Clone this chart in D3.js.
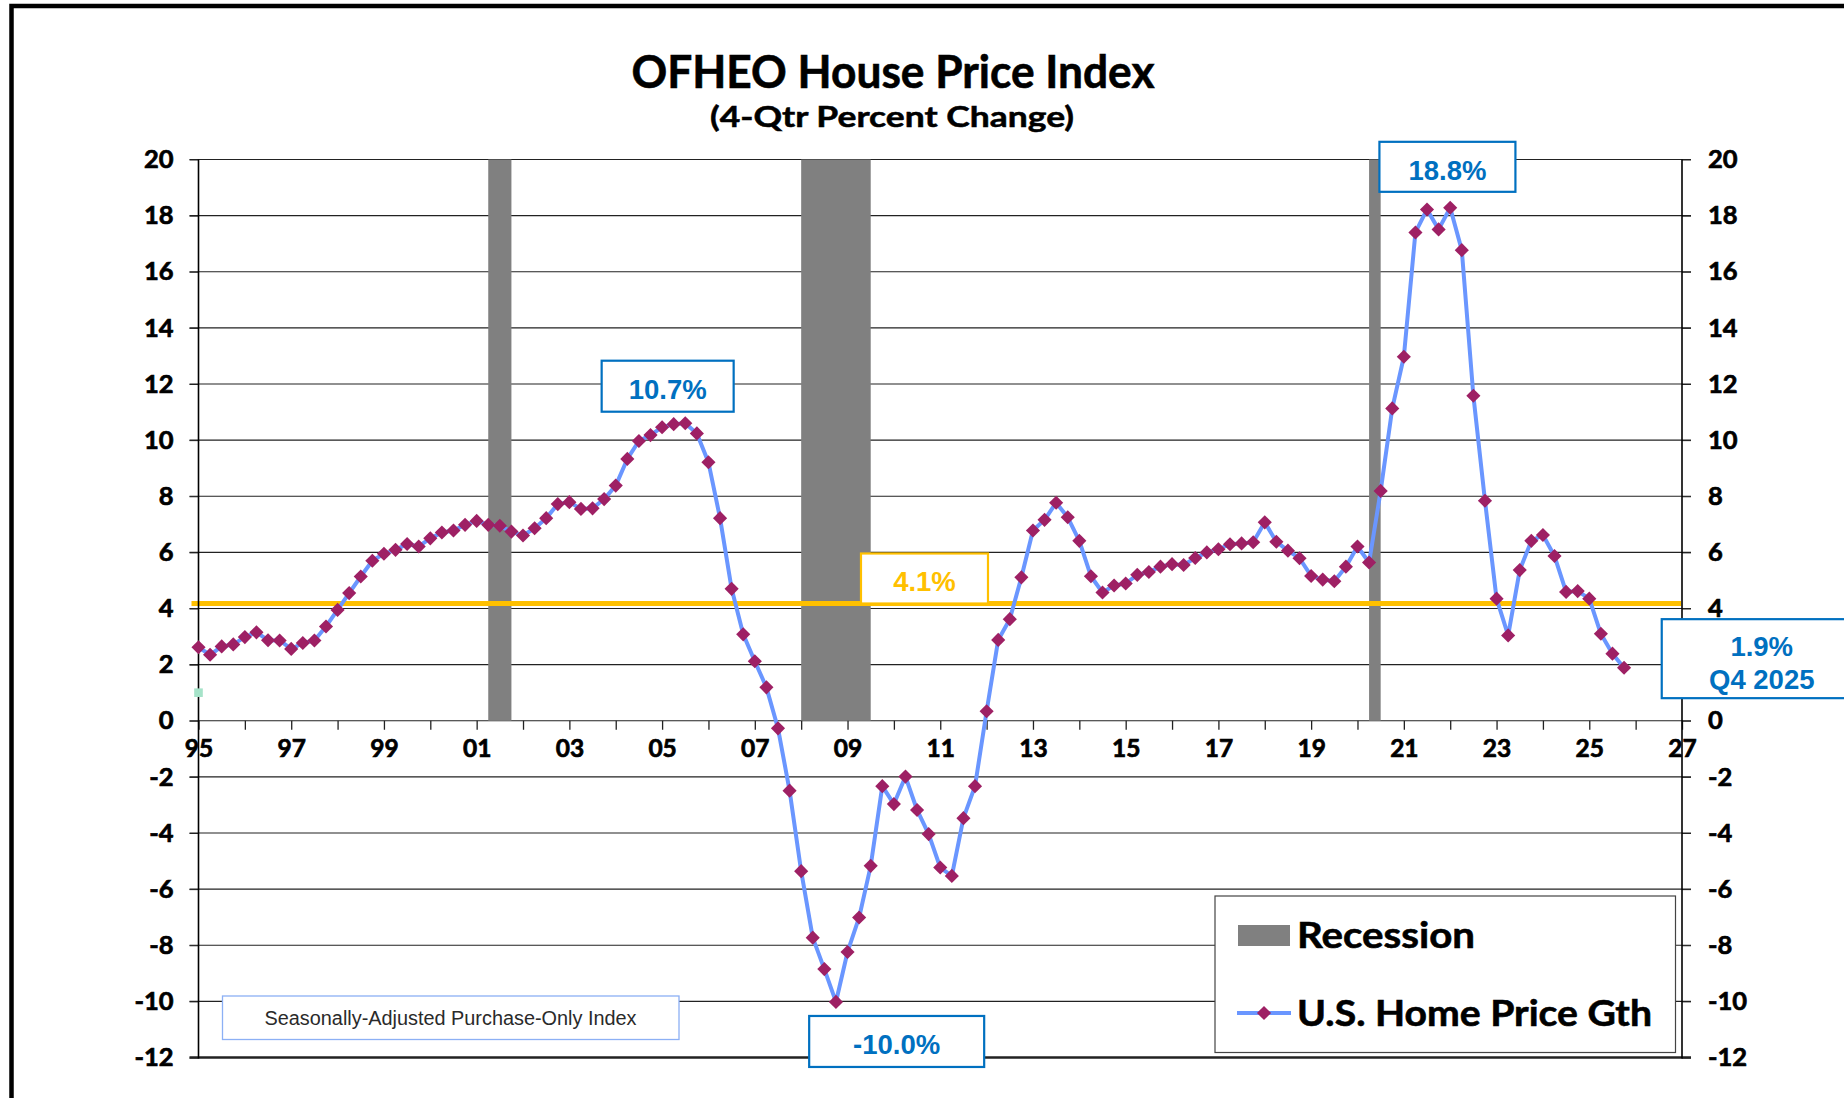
<!DOCTYPE html>
<html>
<head>
<meta charset="utf-8">
<script src="https://cdn.jsdelivr.net/npm/d3@7"></script>
<style>
  html, body { margin: 0; padding: 0; background: #fff; overflow: hidden; }
</style>
</head>
<body>
<div class="hpi-chart"></div>
<script>
const width = 1844;
const height = 1098;
const gothic = '"Century Gothic", Lato, "DejaVu Sans", sans-serif';
const arial = '"Liberation Sans", Arial, sans-serif';

// U.S. home price growth, 4-qtr % change, quarterly from 1995Q1 to 2025Q4
const firstYear = 1995;
const hpiGrowth = [
    2.62, 2.35, 2.65, 2.72,   // 1995
    2.98, 3.15, 2.87, 2.86,   // 1996
    2.56, 2.77, 2.86, 3.36,   // 1997
    3.95, 4.55, 5.14, 5.70,   // 1998
    5.95, 6.09, 6.30, 6.21,   // 1999
    6.50, 6.71, 6.78, 6.98,   // 2000
    7.12, 6.98, 6.95, 6.74,   // 2001
    6.60, 6.86, 7.22, 7.72,   // 2002
    7.79, 7.55, 7.57, 7.90,   // 2003
    8.38, 9.33, 9.97, 10.18,  // 2004
    10.46, 10.57, 10.60, 10.24, // 2005
    9.21, 7.22, 4.70, 3.08,   // 2006
    2.12, 1.19, -0.27, -2.49, // 2007
    -5.36, -7.73, -8.85, -10.02, // 2008
    -8.24, -7.01, -5.17, -2.33, // 2009
    -2.97, -1.99, -3.18, -4.04, // 2010
    -5.23, -5.53, -3.47, -2.33, // 2011
    0.34, 2.88, 3.62, 5.11,   // 2012
    6.78, 7.16, 7.77, 7.25,   // 2013
    6.41, 5.15, 4.57, 4.82,   // 2014
    4.89, 5.20, 5.30, 5.49,   // 2015
    5.58, 5.55, 5.80, 6.00,   // 2016
    6.11, 6.29, 6.32, 6.36,   // 2017
    7.07, 6.38, 6.06, 5.79,   // 2018
    5.16, 5.03, 4.97, 5.49,   // 2019
    6.21, 5.64, 8.19, 11.13,  // 2020
    12.97, 17.40, 18.22, 17.51, // 2021
    18.28, 16.77, 11.58, 7.84, // 2022
    4.35, 3.04, 5.37, 6.41,   // 2023
    6.62, 5.87, 4.59, 4.62,   // 2024
    4.35, 3.10, 2.39, 1.89    // 2025
];

const recessionStart = [2001.25, 2008.0, 2020.25];
const recessionEnd = [2001.75, 2009.5, 2020.5];
const averageLine = 4.18;          // yellow reference line, as drawn
const strayPoint = { t: 1995, v: 1.0 };

const yTicks = [-12, -10, -8, -6, -4, -2, 0, 2, 4, 6, 8, 10, 12, 14, 16, 18, 20];
const rightHidden = [2];           // covered by the Q4 2025 callout
const xTickYears = [1995, 1996, 1997, 1998, 1999, 2000, 2001, 2002, 2003, 2004, 2005,
    2006, 2007, 2008, 2009, 2010, 2011, 2012, 2013, 2014, 2015, 2016, 2017, 2018,
    2019, 2020, 2021, 2022, 2023, 2024, 2025, 2026, 2027];
const xLabelYears = [1995, 1997, 1999, 2001, 2003, 2005, 2007, 2009, 2011, 2013,
    2015, 2017, 2019, 2021, 2023, 2025, 2027];

const calloutText = ["10.7%", "18.8%", "4.1%", "-10.0%", ["1.9%", "Q4 2025"]];

function hpiChart() {
    const svg = d3.select(".hpi-chart")
        .append("svg")
        .attr("width", width)
        .attr("height", height);

    const x = d3.scaleLinear().domain([1995, 2027]).range([198.5, 1682]);
    const y = d3.scaleLinear().domain([-12, 20]).range([1057.5, 159.5]);
    const [left, right] = x.range();

    const series = hpiGrowth.map((v, i) => ({ t: firstYear + i / 4, v: v }));

    // outer frame (only top and left edges are visible)
    svg.append("path")
        .attr("d", `M11.5,${height + 10}V6H${width + 10}`)
        .attr("fill", "none")
        .attr("stroke", "#000")
        .attr("stroke-width", 4.5);

    // titles
    svg.append("text")
        .text("OFHEO House Price Index")
        .attr("x", 893).attr("y", 88)
        .attr("text-anchor", "middle")
        .attr("font-family", gothic).attr("font-weight", "bold")
        .attr("font-size", 45)
        .attr("stroke", "#000").attr("stroke-width", 0.6)
        .attr("textLength", 523).attr("lengthAdjust", "spacingAndGlyphs");
    svg.append("text")
        .text("(4-Qtr Percent Change)")
        .attr("x", 892).attr("y", 127)
        .attr("text-anchor", "middle")
        .attr("font-family", gothic).attr("font-weight", "bold")
        .attr("font-size", 28.5)
        .attr("stroke", "#000").attr("stroke-width", 0.5)
        .attr("textLength", 364).attr("lengthAdjust", "spacingAndGlyphs");

    // horizontal gridlines (run through the tick marks on both sides)
    svg.append("g")
        .selectAll("line")
        .data(yTicks)
        .join("line")
        .attr("x1", left - 9).attr("x2", right + 9)
        .attr("y1", (d) => y(d)).attr("y2", (d) => y(d))
        .attr("stroke", "#222")
        .attr("stroke-width", (d) => (d === -12 ? 2.5 : 1.1));

    // recession bars
    svg.append("g")
        .selectAll("rect")
        .data(recessionStart)
        .join("rect")
        .attr("x", (d) => x(d))
        .attr("width", (d, i) => x(recessionEnd[i]) - x(d))
        .attr("y", y(20))
        .attr("height", y(0) - y(20))
        .attr("fill", "#808080");

    // average growth line
    svg.append("line")
        .attr("x1", left - 7).attr("x2", right - 1)
        .attr("y1", y(averageLine)).attr("y2", y(averageLine))
        .attr("stroke", "#FFC000")
        .attr("stroke-width", 5);

    // axes
    const axisFont = (g, size) => g
        .attr("font-family", gothic)
        .attr("font-weight", "bold")
        .attr("font-size", size);
    const heavy = (sel) => sel
        .attr("fill", "#000")
        .attr("stroke", "#000")
        .attr("stroke-width", 0.7);

    svg.append("g")
        .attr("transform", `translate(${left},0)`)
        .call(d3.axisLeft(y).tickValues(yTicks).tickSize(9).tickSizeOuter(0)
            .tickPadding(16).tickFormat((d) => String(d)))
        .call((g) => g.select(".domain").remove())
        .call((g) => g.selectAll(".tick line").attr("stroke", "#222"))
        .call((g) => heavy(axisFont(g, 25.5).selectAll("text")));

    svg.append("g")
        .attr("transform", `translate(${right},0)`)
        .call(d3.axisRight(y).tickValues(yTicks).tickSize(9).tickSizeOuter(0)
            .tickPadding(17)
            .tickFormat((d) => (rightHidden.includes(d) ? "" : String(d))))
        .call((g) => g.select(".domain").remove())
        .call((g) => g.selectAll(".tick line").attr("stroke", "#222"))
        .call((g) => heavy(axisFont(g, 25.5).selectAll("text")));

    svg.append("g")
        .attr("transform", `translate(0,${y(0)})`)
        .call(d3.axisBottom(x).tickValues(xTickYears).tickSize(9).tickSizeOuter(0)
            .tickPadding(10)
            .tickFormat((d) => (xLabelYears.includes(d) ? String(d % 100).padStart(2, "0") : "")))
        .call((g) => g.select(".domain").remove())
        .call((g) => g.selectAll(".tick line").attr("stroke", "#222").attr("stroke-width", 1.3))
        .call((g) => heavy(axisFont(g, 24.5).selectAll("text")));

    // vertical axis lines drawn over the year labels
    svg.append("g")
        .selectAll("line")
        .data([left, right])
        .join("line")
        .attr("x1", (d) => d).attr("x2", (d) => d)
        .attr("y1", y(20)).attr("y2", y(-12) + 1)
        .attr("stroke", "#000")
        .attr("stroke-width", 1.6);

    // callout boxes
    const callouts = [
        { t: 2005.12, v: 12.83, w: 132, h: 51, color: "#0070C0" },
        { t: 2021.94, v: 20.63, w: 136, h: 50, color: "#0070C0" },
        { t: 2010.66, v: 5.96, w: 127, h: 50, color: "#FFC000" },
        { t: 2010.06, v: -10.52, w: 175, h: 51, color: "#0070C0" },
        { t: 2028.72, v: 3.62, w: 200, h: 79, color: "#0070C0" },
    ].map((c, i) => ({ ...c, text: calloutText[i] }));

    const cg = svg.append("g")
        .selectAll("g")
        .data(callouts)
        .join("g")
        .attr("transform", (d) => `translate(${x(d.t)},${y(d.v)})`);
    cg.append("rect")
        .attr("x", (d) => -d.w / 2)
        .attr("width", (d) => d.w)
        .attr("height", (d) => d.h)
        .attr("fill", "#fff")
        .attr("stroke", (d) => d.color)
        .attr("stroke-width", 2.2);
    cg.each(function (d) {
        const lines = Array.isArray(d.text) ? d.text : [d.text];
        d3.select(this)
            .selectAll("text")
            .data(lines)
            .join("text")
            .text((s) => s)
            .attr("x", 0)
            .attr("y", (s, j) => (lines.length > 1 ? 36.5 + j * 33.5 : 37.8))
            .attr("text-anchor", "middle")
            .attr("font-family", arial)
            .attr("font-weight", "bold")
            .attr("font-size", 27.5)
            .attr("fill", d.color);
    });

    // data line and diamond markers
    const line = d3.line()
        .x((d) => x(d.t))
        .y((d) => y(d.v));

    svg.append("path")
        .datum(series)
        .attr("d", line)
        .attr("fill", "none")
        .attr("stroke", "#6A96FF")
        .attr("stroke-width", 4)
        .attr("stroke-linejoin", "round");

    const diamond = d3.symbol().type(d3.symbolSquare).size(100);
    svg.append("g")
        .selectAll("path")
        .data(series)
        .join("path")
        .attr("d", diamond)
        .attr("transform", (d) => `translate(${x(d.t)},${y(d.v)}) rotate(45)`)
        .attr("fill", "#9E2064");

    svg.append("rect")
        .attr("x", x(strayPoint.t) - 4.3)
        .attr("y", y(strayPoint.v) - 4.3)
        .attr("width", 8.6)
        .attr("height", 8.6)
        .attr("fill", "#A6E3C9");

    // note box
    svg.append("rect")
        .attr("x", 222.5).attr("y", 996)
        .attr("width", 456.5).attr("height", 43.5)
        .attr("fill", "#fff")
        .attr("stroke", "#8CB0F5")
        .attr("stroke-width", 1.3);
    svg.append("text")
        .text("Seasonally-Adjusted Purchase-Only Index")
        .attr("x", 450.5).attr("y", 1025)
        .attr("text-anchor", "middle")
        .attr("font-family", arial)
        .attr("font-size", 20)
        .attr("fill", "#2a2a2a")
        .attr("textLength", 372).attr("lengthAdjust", "spacingAndGlyphs");

    // legend
    const legend = svg.append("g");
    legend.append("rect")
        .attr("x", 1215).attr("y", 896)
        .attr("width", 460.5).attr("height", 156.5)
        .attr("fill", "#fff")
        .attr("stroke", "#444")
        .attr("stroke-width", 1.2);
    legend.append("rect")
        .attr("x", 1238).attr("y", 925)
        .attr("width", 52).attr("height", 21)
        .attr("fill", "#808080");
    legend.append("line")
        .attr("x1", 1237).attr("x2", 1291)
        .attr("y1", 1013).attr("y2", 1013)
        .attr("stroke", "#6A96FF")
        .attr("stroke-width", 4);
    legend.append("path")
        .attr("d", diamond)
        .attr("transform", "translate(1264,1013) rotate(45)")
        .attr("fill", "#9E2064");
    legend.selectAll("text.lg")
        .data(["Recession", "U.S. Home Price Gth"])
        .join("text")
        .attr("class", "lg")
        .text((d) => d)
        .attr("x", 1297)
        .attr("y", (d, i) => (i === 0 ? 947.5 : 1025.5))
        .attr("font-family", gothic)
        .attr("font-weight", "bold")
        .attr("font-size", 37)
        .attr("stroke", "#000").attr("stroke-width", 0.6)
        .attr("textLength", (d, i) => (i === 0 ? 178 : 355))
        .attr("lengthAdjust", "spacingAndGlyphs");
}

hpiChart();
</script>
</body>
</html>
